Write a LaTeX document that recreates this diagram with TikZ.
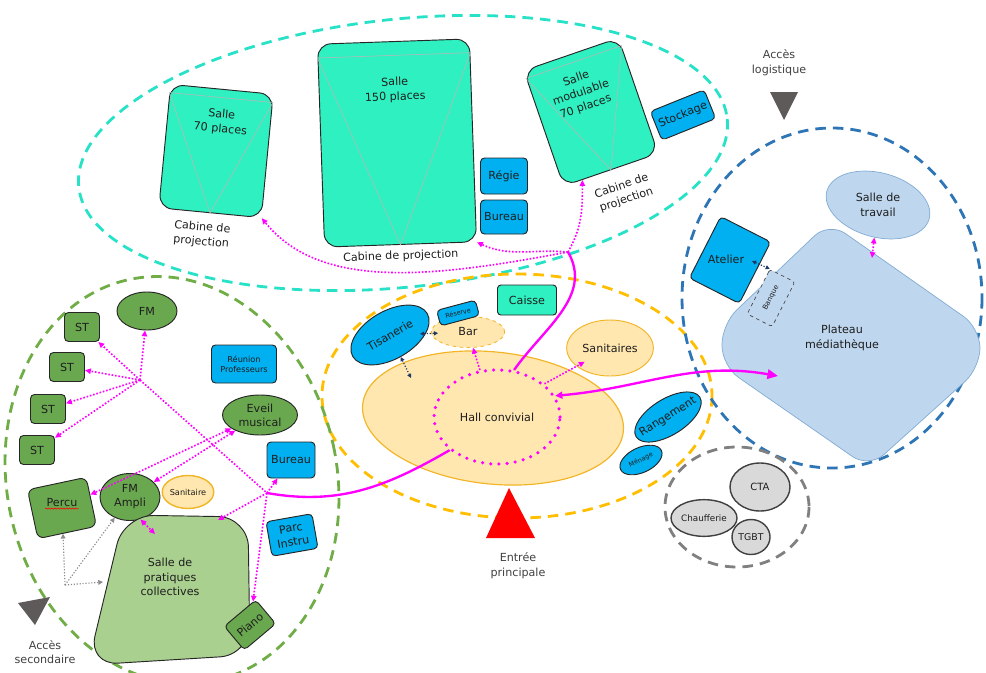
\documentclass[tikz,border=0pt]{standalone}
\usepackage{fontspec}
\setmainfont{DejaVu Sans}
\usetikzlibrary{arrows.meta,shapes.geometric,calc,positioning,decorations.pathmorphing}

\definecolor{turq}{RGB}{46,240,192}
\definecolor{turqz}{RGB}{40,226,200}
\definecolor{bleu}{RGB}{0,176,240}
\definecolor{marine}{RGB}{31,56,100}
\definecolor{vertf}{RGB}{106,168,79}
\definecolor{vertc}{RGB}{169,208,142}
\definecolor{vertz}{RGB}{112,173,71}
\definecolor{orz}{RGB}{255,190,0}
\definecolor{orc}{RGB}{255,231,175}
\definecolor{ord}{RGB}{242,181,40}
\definecolor{bleuz}{RGB}{46,117,182}
\definecolor{bleuc}{RGB}{190,214,238}
\definecolor{grisz}{RGB}{128,128,128}
\definecolor{grisc}{RGB}{217,217,217}
\definecolor{grisf}{RGB}{95,90,90}
\definecolor{rose}{RGB}{255,0,255}
\definecolor{texte}{RGB}{30,30,30}

\tikzset{
	zone/.style={line width=2.4pt, dash pattern=on 9pt off 6pt},
	piece/.style={draw=black!85, line width=0.8pt, align=center, inner sep=0pt, text=texte, font=\fontsize{9.5}{12}\selectfont},
	salle/.style={piece, fill=turq, rounded corners=0.4cm},
	local/.style={piece, fill=bleu, rounded corners=0.12cm},
	studio/.style={piece, fill=vertf, rounded corners=0.12cm},
	rond/.style={piece, ellipse},
	txt/.style={align=center, inner sep=1pt, text=texte, font=\fontsize{9.5}{12.5}\selectfont},
	legende/.style={txt, text=black!75},
	petit/.style={font=\fontsize{7}{8.5}\selectfont},
	mini/.style={font=\fontsize{5.5}{6.5}\selectfont},
	ecran/.style={draw=black!28, line width=0.5pt},
	lien/.style={rose, line width=1.4pt, dash pattern=on 1.4pt off 1.5pt, ->},
	navette/.style={marine, line width=1pt, dash pattern=on 1pt off 1.5pt, {Triangle[length=3.5pt,width=3.5pt]}-{Triangle[length=3.5pt,width=3.5pt]}},
	grislien/.style={black!45, line width=1pt, dash pattern=on 1pt off 1.5pt, -{Triangle[length=4pt,width=4pt]}},
	fort/.style={rose, line width=2pt},
}

\begin{document}
\begin{tikzpicture}[x=0.03cm, y=-0.03cm, >={Triangle[length=5pt,width=4.5pt]}]
	\useasboundingbox (0,0) rectangle (986,672);

	% zones
	\draw[zone, turqz, rotate around={6:(403,153)}] (403,153) ellipse [x radius=326, y radius=134];
	\draw[zone, orz] (517,396) ellipse [x radius=195, y radius=122];
	\draw[zone, vertz, rotate around={12:(172,480)}] (172,480) ellipse [x radius=165, y radius=205];
	\draw[zone, bleuz] (832,298) ellipse [x radius=150, y radius=170];
	\draw[zone, grisz] (737,507) ellipse [x radius=72, y radius=60];

	% cinema
	\node[salle, rotate=-5.5, minimum width=3.09cm, minimum height=3.72cm] (s70) at (216,151) {};
	\node[salle, rotate=2, minimum width=4.56cm, minimum height=6.09cm] (s150) at (397,143) {};
	\node[salle, rotate=19, minimum width=3cm, minimum height=3.66cm] (smod) at (591,112) {};
	\foreach \s in {s70,s150,smod}
		\draw[ecran] ($(\s.north west)!.07!(\s.south west)$) -- ($(\s.north east)!.07!(\s.south east)$) -- (\s.south) -- cycle;
	\node[txt, rotate=-5.5] at (221,122) {Salle\\70 places};
	\node[txt, rotate=2] at (395,90) {Salle\\150 places};
	\node[txt, rotate=19] at (581,93) {Salle\\modulable\\70 places};
	\node[txt, rotate=-5, below=7pt of s70, xshift=-6pt] (c70) {Cabine de\\projection};
	\node[txt, rotate=2, below=4pt of s150] (c150) {Cabine de projection};
	\node[txt, rotate=19] (cmod) at (624,193) {Cabine de\\projection};
	\node[local, minimum width=1.41cm, minimum height=1.08cm] (regie) at (504,176) {Régie};
	\node[local, minimum width=1.41cm, minimum height=1.02cm] (bur1) at (504,217) {Bureau};
	\node[local, rotate=22, minimum width=1.74cm, minimum height=0.93cm] (stock) at (683,115) {Stockage};

	% hall
	\node[rond, fill=orc, draw=ord, line width=1pt, rotate=-6, minimum width=7.86cm, minimum height=3.96cm] (hall) at (493,418) {};
	\node[rond, draw=rose, line width=3pt, dash pattern=on 0pt off 7pt, line cap=round, minimum width=3.78cm, minimum height=2.82cm] (hc) at (497,417) {Hall convivial};
	\node[rond, fill=bleu, rotate=30, minimum width=2.58cm, minimum height=1.44cm] (tis) at (390,335) {Tisanerie};
	\node[rond, fill=orc, draw=ord, line width=0.7pt, dashed, minimum width=2.2cm, minimum height=0.93cm] (bar) at (468,332) {Bar};
	\node[local, mini, rotate=15, minimum width=1.2cm, minimum height=0.48cm] (reserve) at (458,313) {Réserve};
	\node[salle, rounded corners=0.1cm, minimum width=1.77cm, minimum height=0.9cm] (caisse) at (527,300) {Caisse};
	\node[rond, fill=orc, draw=ord, line width=0.8pt, minimum width=2.6cm, minimum height=1.68cm] (sanit) at (610,348) {Sanitaires};
	\node[rond, fill=bleu, rotate=32, minimum width=2.25cm, minimum height=1.08cm] (rang) at (668,417) {};
	\node[txt, rotate=32] at (rang) {Rangement};
	\node[rond, fill=bleu, mini, rotate=25, minimum width=1.35cm, minimum height=0.75cm] (menage) at (641,460) {Ménage};
	\fill[red] (509,488) -- (535,538) -- (486,538) -- cycle;
	\node[legende] (entree) at (518,566) {Entrée\\principale};

	% musique
	\node[rond, fill=vertf, minimum width=1.8cm, minimum height=1.14cm] (fm) at (147,311) {FM};
	\foreach \n/\x/\y in {st1/82/327, st2/67/367, st3/48/409, st4/37/450}
		\node[studio, minimum width=1.05cm, minimum height=0.87cm] (\n) at (\x,\y) {ST};
	\node[local, petit, minimum width=1.95cm, minimum height=1.14cm] (reunion) at (244,364) {Réunion\\Professeurs};
	\node[rond, fill=vertf, minimum width=2.25cm, minimum height=1.2cm] (eveil) at (260,415) {Eveil\\musical};
	\node[local, minimum width=1.44cm, minimum height=1.08cm] (bur2) at (291,460) {Bureau};
	\node[studio, rotate=12, rounded corners=0.2cm, minimum width=1.8cm, minimum height=1.5cm] (percu) at (62,508) {};
	\node[txt] (percut) at (62,503) {Percu};
	\draw[red, line width=0.5pt, decorate, decoration={snake, amplitude=0.5pt, segment length=2.5pt}] (percut.south west) -- (percut.south east);
	\node[rond, fill=vertf, minimum width=1.8cm, minimum height=1.41cm] (fmampli) at (130,497) {FM\\Ampli};
	\node[rond, fill=orc, draw=ord, line width=1.2pt, petit, minimum width=1.5cm, minimum height=0.99cm] (sanit2) at (188,492) {Sanitaire};
	\draw[fill=vertc, draw=black!85, line width=0.8pt, rounded corners=0.9cm] (124,515) -- (248,517) -- (250,655) -- (88,665) -- cycle;
	\node[txt] (spc) at (170,577) {Salle de\\pratiques\\collectives};
	\node[local, rotate=10, minimum width=1.4cm, minimum height=1.05cm] (parc) at (292,535) {Parc\\Instru};
	\node[studio, rotate=40, minimum width=1.23cm, minimum height=0.93cm] (piano) at (250,625) {Piano};
	\fill[grisf] (18,603) -- (50,597) -- (35,625) -- cycle;
	\node[legende] (acs) at (45,652) {Accès\\secondaire};

	% mediatheque
	\fill[grisf] (770,92) -- (798,92) -- (784,120) -- cycle;
	\node[legende] (acl) at (779,63) {Accès\\logistique};
	\draw[fill=bleuc, draw=bleuz!60, line width=0.6pt, rounded corners=0.6cm] (829,222) -- (980,328) -- (980,368) -- (869,468) -- (722,366) -- (722,324) -- cycle;
	\node[txt] (plateau) at (842,338) {Plateau\\médiathèque};
	\node[rond, fill=bleuc, draw=bleuz!60, line width=0.6pt, rotate=-15, minimum width=3.18cm, minimum height=1.93cm] (travail) at (878,205) {};
	\node[txt] at (travail) {Salle de\\travail};
	\node[local, rotate=-27, minimum width=1.68cm, minimum height=2.07cm] (atelier) at (730,260) {};
	\node[txt] at (726,259) {Atelier};
	\node[piece, fill=bleuc, draw=black!70, dashed, line width=0.6pt, rounded corners=0.08cm, rotate=63, font=\fontsize{6}{7}\selectfont, minimum width=1.5cm, minimum height=0.84cm] (banque) at (771,298) {Banque};

	% technique
	\node[rond, fill=grisc, draw=black!75, line width=1.2pt, font=\fontsize{8.5}{10}\selectfont, minimum width=1.8cm, minimum height=1.44cm] (cta) at (760,487) {CTA};
	\node[rond, fill=grisc, draw=black!75, line width=1.2pt, font=\fontsize{7.5}{9}\selectfont, minimum width=1.98cm, minimum height=1.1cm] (chauf) at (704,518) {Chaufferie};
	\node[rond, fill=grisc, draw=black!75, line width=1.2pt, font=\fontsize{8}{9}\selectfont, minimum width=1.14cm, minimum height=1.05cm] (tgbt) at (751,537) {TGBT};

	% liaisons
	\coordinate (cj) at (568,252);
	\draw[fort] (hc.70) to[out=55, in=-60] (cj);
	\draw[lien] (cj) to[out=60, in=-90] ($(smod.south west)!.2!(smod.south east)$);
	\draw[lien] (cj) to[out=175, in=-25] (s150.south east);
	\draw[lien] (cj) .. controls (430,278) and (320,290) .. (s70.south east);
	\coordinate (pa) at (778,376);
	\draw[fort, {Triangle[length=6pt,width=6pt]}-{Triangle[length=9pt,width=8pt]}] (hc.20) to[out=5, in=170] (pa);
	\coordinate (j) at (267,493);
	\draw[fort] (hc.215) to[out=210, in=-10] (j);

	\coordinate (h) at (140,380);
	\foreach \t in {fm,st1,st2,st3,st4}
		\draw[lien] (h) -- (\t);
	\draw[lien, -] (h) -- (j);
	\coordinate (spcn) at (218,520);
	\draw[lien] (j) -- (bur2);
	\draw[lien] (j) -- (spcn);
	\draw[lien] (j) -- (piano);
	\draw[lien, <->] (eveil) -- (percu);
	\draw[lien, <->] (eveil) -- (fmampli);
	\coordinate (spct) at (155,534);
	\draw[lien, <->] (fmampli.-65) -- (spct);
	\coordinate (as) at (65,585);
	\coordinate (spcw) at (103,582);
	\draw[grislien] (as) -- (percu);
	\draw[grislien] (as) -- (fmampli);
	\draw[grislien] (as) -- (spcw);

	\draw[navette, shorten <=-5pt, shorten >=-6pt] (tis) -- (bar);
	\coordinate (ht) at (411,378);
	\draw[navette] (tis) -- (ht);
	\draw[lien] (hc.110) -- (bar);
	\draw[lien, shorten >=-8pt] (hc.35) -- (sanit);
	\coordinate (tp) at (872,258);
	\draw[lien, <->] (travail) -- (tp);
	\coordinate (ab) at (752,261);
	\draw[navette] (ab) -- (banque.north east);
\end{tikzpicture}
\end{document}
